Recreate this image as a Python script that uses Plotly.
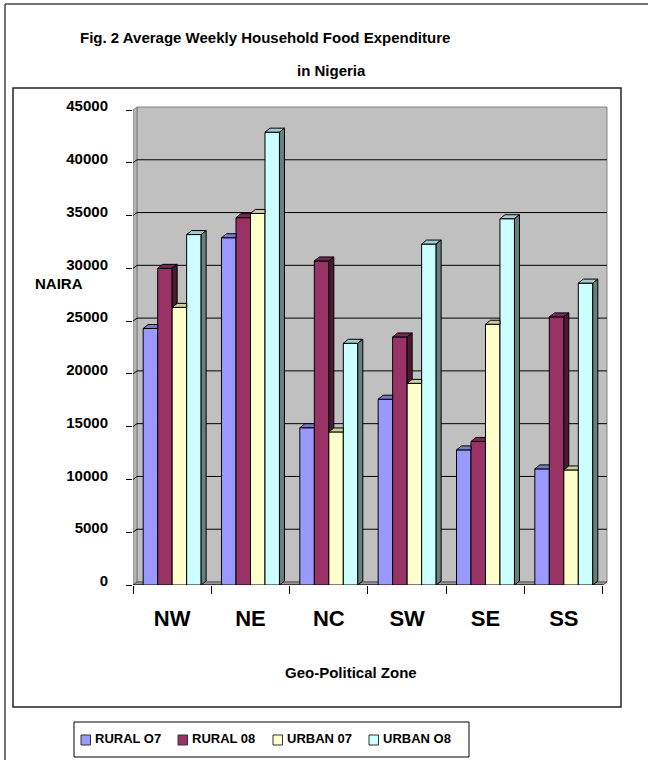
import plotly.graph_objects as go

# ---- data -------------------------------------------------------------
zones = ["NW", "NE", "NC", "SW", "SE", "SS"]
series_names = ["RURAL O7", "RURAL 08", "URBAN 07", "URBAN O8"]
rural_07 = [24300, 32900, 14900, 17600, 12800, 11000]
rural_08 = [30000, 34800, 30700, 23500, 13600, 25400]
urban_07 = [26300, 35200, 14500, 19100, 24700, 10900]
urban_08 = [33200, 42900, 22900, 32300, 34700, 28600]
y_ticks = [0, 5000, 10000, 15000, 20000, 25000, 30000, 35000, 40000, 45000]

series_values = [rural_07, rural_08, urban_07, urban_08]
face_colors = ["#9999FF", "#993366", "#FFFFCC", "#CCFFFF"]


def shade(hex_color, f):
    r, g, b = (int(hex_color[i:i + 2], 16) for i in (1, 3, 5))
    return "#%02X%02X%02X" % (int(r * f), int(g * f), int(b * f))


top_colors = [shade(c, 0.8) for c in face_colors]
side_colors = [shade(c, 0.5) for c in face_colors]

# ---- page geometry (pixels) -------------------------------------------
W, H = 648, 760
L_PX, R_PX = 133, 612          # plot area left / right
T_PX, B_PX = 100, 585          # plot area top / bottom
plot_w = R_PX - L_PX
plot_h = B_PX - T_PX
cat_px = 78.33                 # width of one zone on the floor
k = 475 / 45000                # pixels per Naira

x0 = -0.5
x1 = x0 + plot_w / cat_px
y1 = plot_h / k
x_end = len(zones) - 0.5
y_top = y_ticks[-1]

# 3-D depth offsets in data units
wdx, wdy = 4 / cat_px, 3 / k   # walls
bdx, bdy = 5 / cat_px, 4 / k   # bars

bargap = 0.26
bw = (1 - bargap) / len(series_names)

FONT = "Liberation Sans, Arial, sans-serif"


def px_x(px):
    return (px - L_PX) / plot_w


def px_y(py):
    return (B_PX - py) / plot_h


def path(pts):
    return "M " + " L ".join(f"{x},{y}" for x, y in pts) + " Z"


shapes = []

# back wall, left wall and floor
shapes.append(dict(type="path", xref="x", yref="y", layer="below",
                   path=path([(x0 + wdx, wdy), (x_end + wdx, wdy),
                              (x_end + wdx, y_top + wdy), (x0 + wdx, y_top + wdy)]),
                   fillcolor="#C0C0C0", line=dict(color="#808080", width=1)))
shapes.append(dict(type="path", xref="x", yref="y", layer="below",
                   path=path([(x0, 0), (x0 + wdx, wdy),
                              (x0 + wdx, y_top + wdy), (x0, y_top)]),
                   fillcolor="#B4B4B4", line=dict(color="#808080", width=1)))
shapes.append(dict(type="path", xref="x", yref="y", layer="below",
                   path=path([(x0, 0), (x_end, 0), (x_end + wdx, wdy), (x0 + wdx, wdy)]),
                   fillcolor="#9A9A9A", line=dict(color="#555555", width=1)))

# gridlines on the walls
for v in y_ticks[1:-1]:
    shapes.append(dict(type="line", xref="x", yref="y", layer="below",
                       x0=x0 + wdx, x1=x_end + wdx, y0=v + wdy, y1=v + wdy,
                       line=dict(color="black", width=1)))
    shapes.append(dict(type="line", xref="x", yref="y", layer="below",
                       x0=x0, x1=x0 + wdx, y0=v, y1=v + wdy,
                       line=dict(color="black", width=1)))

# front floor edge
shapes.append(dict(type="line", xref="x", yref="y", layer="below",
                   x0=x0, x1=x_end, y0=0, y1=0, line=dict(color="black", width=1)))

fig = go.Figure()

# front faces of the columns
for name, vals, col in zip(series_names, series_values, face_colors):
    fig.add_trace(go.Bar(x=list(range(len(zones))), y=vals, name=name,
                         marker=dict(color=col, line=dict(color="black", width=1)),
                         showlegend=False, hoverinfo="skip"))

# top and side faces of the columns
n = len(series_names)
for j in range(n):
    tx, ty, sx, sy = [], [], [], []
    for i in range(len(zones)):
        h = series_values[j][i]
        left = i - (1 - bargap) / 2 + j * bw
        right = left + bw
        hn = series_values[j + 1][i] if j < n - 1 else None
        if hn is not None and hn > h:
            top = [(left, h), (left + bdx, h + bdy), (right, h + bdy), (right, h)]
        else:
            top = [(left, h), (left + bdx, h + bdy), (right + bdx, h + bdy), (right, h)]
        for x, y in top + [top[0]]:
            tx.append(x)
            ty.append(y)
        tx.append(None)
        ty.append(None)
        if hn is None:
            side = [(right, 0), (right + bdx, bdy), (right + bdx, h + bdy), (right, h)]
        elif h > hn:
            side = [(right, hn), (right + bdx, hn + bdy), (right + bdx, h + bdy), (right, h)]
        else:
            side = None
        if side:
            for x, y in side + [side[0]]:
                sx.append(x)
                sy.append(y)
            sx.append(None)
            sy.append(None)
    fig.add_trace(go.Scatter(x=tx, y=ty, mode="lines", fill="toself",
                             fillcolor=top_colors[j], line=dict(color="black", width=1),
                             showlegend=False, hoverinfo="skip"))
    if sx:
        fig.add_trace(go.Scatter(x=sx, y=sy, mode="lines", fill="toself",
                                 fillcolor=side_colors[j], line=dict(color="black", width=1),
                                 showlegend=False, hoverinfo="skip"))

# boundary ticks along the floor
fig.add_trace(go.Scatter(x=[None], y=[None], xaxis="x2", showlegend=False,
                         hoverinfo="skip"))

# chart frames
shapes.append(dict(type="rect", xref="paper", yref="paper", layer="below",
                   x0=px_x(13), x1=px_x(621), y0=px_y(707), y1=px_y(88),
                   line=dict(color="#222222", width=1.5)))
shapes.append(dict(type="line", xref="paper", yref="paper",
                   x0=px_x(5), x1=px_x(660), y0=px_y(4), y1=px_y(4),
                   line=dict(color="#444444", width=1.5)))
shapes.append(dict(type="line", xref="paper", yref="paper",
                   x0=px_x(5), x1=px_x(5), y0=px_y(4), y1=px_y(770),
                   line=dict(color="#444444", width=1.5)))

annotations = [
    dict(text="<b>Fig. 2 Average Weekly Household Food Expenditure</b>",
         x=px_x(78), y=px_y(37), xanchor="left", yanchor="middle"),
    dict(text="<b>in Nigeria</b>", x=px_x(331), y=px_y(70),
         xanchor="center", yanchor="middle"),
    dict(text="<b>NAIRA</b>", x=px_x(33), y=px_y(283),
         xanchor="left", yanchor="middle"),
    dict(text="<b>Geo-Political Zone</b>", x=px_x(351), y=px_y(672),
         xanchor="center", yanchor="middle"),
]
for a in annotations:
    a.update(xref="paper", yref="paper", showarrow=False,
             font=dict(family=FONT, size=15, color="black"))

# legend box
shapes.append(dict(type="rect", xref="paper", yref="paper",
                   x0=px_x(74), x1=px_x(469), y0=px_y(757), y1=px_y(722),
                   line=dict(color="black", width=1)))
marker_px = [81, 178, 273, 369]
for name, col, mx in zip(series_names, face_colors, marker_px):
    shapes.append(dict(type="rect", xref="paper", yref="paper",
                       x0=px_x(mx), x1=px_x(mx + 9.5), y0=px_y(745), y1=px_y(735),
                       fillcolor=col, line=dict(color="#333333", width=1)))
    annotations.append(dict(text=f"<b>{name}</b>", xref="paper", yref="paper",
                            x=px_x(mx + 11.5), y=px_y(738), xanchor="left",
                            yanchor="middle", showarrow=False,
                            font=dict(family=FONT, size=13, color="black")))

fig.update_layout(
    width=W, height=H,
    margin=dict(l=L_PX, r=W - R_PX, t=T_PX, b=H - B_PX, pad=0),
    paper_bgcolor="white", plot_bgcolor="white",
    barmode="group", bargap=bargap, bargroupgap=0,
    showlegend=False,
    shapes=shapes, annotations=annotations,
    xaxis=dict(range=[x0, x1], tickvals=list(range(len(zones))), ticktext=zones,
               ticks="", showgrid=False, zeroline=False, showline=False,
               tickfont=dict(family=FONT, size=22, color="black", weight="bold"),
               ticklabelstandoff=18),
    xaxis2=dict(range=[x0, x1], overlaying="x", anchor="y", side="bottom",
                tickvals=[i - 0.5 for i in range(len(zones) + 1)],
                ticks="outside", ticklen=8, tickcolor="black",
                showticklabels=False, showgrid=False, zeroline=False, showline=False),
    yaxis=dict(range=[0, y1], tickvals=y_ticks, ticktext=[str(v) for v in y_ticks],
               ticks="outside", ticklen=6, tickcolor="black",
               showgrid=False, zeroline=False, showline=False,
               tickfont=dict(family=FONT, size=15, color="black", weight="bold"),
               ticklabelstandoff=15, ticklabelshift=-4),
)

fig.write_html("out.html")
